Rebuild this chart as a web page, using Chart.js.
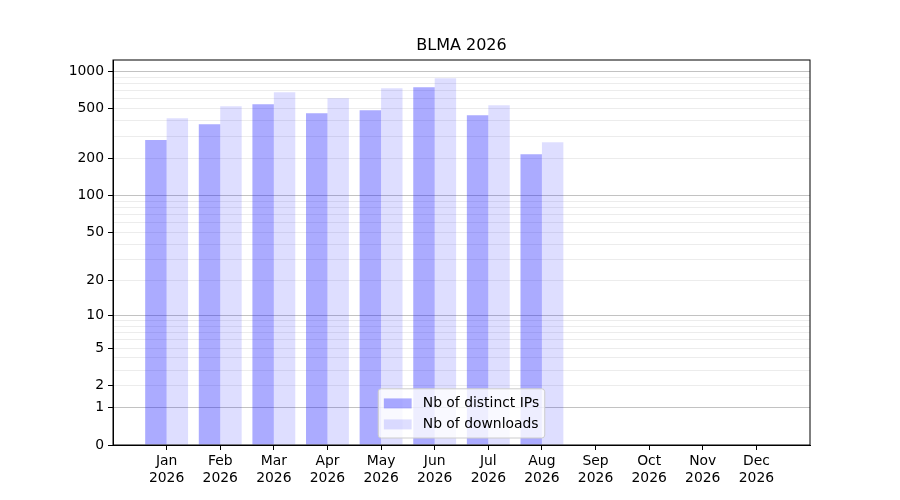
<!DOCTYPE html>
<html lang="en">
<head>
    <meta charset="UTF-8">
    <title>BLMA 2026</title>
    <script src="https://cdn.jsdelivr.net/npm/chart.js"></script>
    <style>
        html, body { margin: 0; padding: 0; background: #fff; }
        #wrap { width: 900px; height: 500px; }
    </style>
</head>
<body>
    <div id="wrap"><canvas id="chart"></canvas></div>
</body>

<script>

// months and values (Sep-Dec have no data yet)
const months   = ['Jan', 'Feb', 'Mar', 'Apr', 'May', 'Jun', 'Jul', 'Aug', 'Sep', 'Oct', 'Nov', 'Dec'];
const year     = '2026';
const ips      = [280, 376, 544, 460, 487, 745, 443, 215];
const download = [420, 524, 679, 608, 731, 879, 534, 269];

// y ticks: labelled values, and the unlabelled minor grid lines
const yLabels = [0, 1, 2, 5, 10, 20, 50, 100, 200, 500, 1000];
const yDark   = [1, 10, 100, 1000];
const yMinor  = [3, 4, 6, 7, 8, 9, 30, 40, 60, 70, 80, 90, 300, 400, 600, 700, 800, 900];

// scale where position = log10(v + 1)
const f = v => Math.log10(v + 1);

class Log1pScale extends Chart.Scale {
    static id = 'log1p';
    static defaults = {};

    determineDataLimits() {
        const { max } = this.getMinMax(true);
        this.min = 0;
        this.max = Math.pow(10, f(max) * 1.05) - 1;   // 5% margin like matplotlib
    }
    buildTicks() {
        return yLabels.concat(yMinor)
            .filter(v => v <= this.max)
            .sort((a, b) => a - b)
            .map(v => ({ value: v, lvl: yDark.includes(v) ? 2 : (yLabels.includes(v) ? 1 : 0) }));
    }
    configure() {
        super.configure();
        this._startValue = f(this.min);
        this._valueRange = f(this.max) - this._startValue;
    }
    getPixelForValue(v) {
        return this.getPixelForDecimal((f(v) - this._startValue) / this._valueRange);
    }
    getValueForPixel(p) {
        return Math.pow(10, this._startValue + this.getDecimalForPixel(p) * this._valueRange) - 1;
    }
    getLabelForValue(v) {
        return String(v);
    }
}
Chart.register(Log1pScale);

Chart.defaults.font.family = "'DejaVu Sans', sans-serif";
Chart.defaults.font.size = 13.9;
Chart.defaults.color = '#000';

// full box around the plot, like matplotlib spines
const framePlugin = {
    id: 'frame',
    afterDraw(chart) {
        const { ctx, chartArea: a } = chart;
        ctx.save();
        ctx.strokeStyle = '#000';
        ctx.lineWidth = 1;
        ctx.strokeRect(a.left, a.top, a.right - a.left, a.bottom - a.top);
        ctx.restore();
    }
};

// legend box at the lower centre inside the plot
const legendPlugin = {
    id: 'innerLegend',
    afterDraw(chart) {
        const { ctx, chartArea: a } = chart;
        const fs = 13.9;
        const sets = chart.data.datasets;
        ctx.save();
        ctx.font = fs + "px 'DejaVu Sans', sans-serif";
        const textW = Math.max(...sets.map(d => ctx.measureText(d.label).width));
        const pad = 5.6, handle = 27.8, gap = 11.1, rowH = 21;
        const w = pad * 2 + handle + gap + textW;
        const h = pad * 2 + rowH * sets.length - 4;
        const x = (a.left + a.right) / 2 - w / 2;
        const y = a.bottom - 7 - h;
        ctx.beginPath();
        ctx.roundRect(x, y, w, h, 3);
        ctx.fillStyle = 'rgba(255,255,255,0.8)';
        ctx.fill();
        ctx.strokeStyle = '#cccccc';
        ctx.lineWidth = 1;
        ctx.stroke();
        sets.forEach((d, i) => {
            const cy = y + pad + 9 + i * rowH;
            ctx.fillStyle = d.backgroundColor;
            ctx.fillRect(x + pad, cy - 5, handle, 10);
            ctx.fillStyle = '#000';
            ctx.textBaseline = 'middle';
            ctx.fillText(d.label, x + pad + handle + gap, cy);
        });
        ctx.restore();
    }
};

new Chart(document.getElementById('chart'), {
    type: 'bar',
    data: {
        datasets: [{
            label: 'Nb of distinct IPs',
            data: ips.map((v, i) => ({ x: i, y: v })),
            backgroundColor: 'rgba(0,0,255,0.33)',
        },
        {
            label: 'Nb of downloads',
            data: download.map((v, i) => ({ x: i, y: v })),
            backgroundColor: 'rgba(0,0,255,0.13)',
        }]
    },
    options: {
        responsive: true,
        maintainAspectRatio: false,
        animation: false,
        layout: { padding: { left: 0, right: 90, top: 0, bottom: 0 } },
        datasets: { bar: { categoryPercentage: 0.8, barPercentage: 1.0, borderWidth: 0 } },
        plugins: {
            legend: { display: false },
            tooltip: { enabled: false },
            title: {
                display: true,
                fullSize: false,
                text: 'BLMA 2026',
                font: { size: 16, weight: 'normal' },
                padding: { top: 36.4, bottom: 4.4 }
            }
        },
        scales: {
            x: {
                type: 'linear',
                min: -1,
                max: 12,
                offset: false,
                afterFit: s => { s.height = 55; },
                afterBuildTicks: s => { s.ticks = months.map((m, i) => ({ value: i })); },
                ticks: {
                    autoSkip: false,
                    maxRotation: 0,
                    padding: 3,
                    callback: v => [months[v], year]
                },
                grid: {
                    offset: false,
                    drawOnChartArea: false,
                    drawTicks: true,
                    tickLength: 5,
                    tickColor: '#000'
                },
                border: { color: '#000' }
            },
            y: {
                type: 'log1p',
                z: 1,
                afterFit: s => { s.width = 113; },
                ticks: {
                    autoSkip: false,
                    padding: 4,
                    callback: v => yLabels.includes(v) ? String(v) : ''
                },
                grid: {
                    tickLength: 5,
                    color: c => c.tick.value === 0 ? 'rgba(0,0,0,0)' :
                        (c.tick.lvl === 2 ? 'rgba(0,0,0,0.24)' : 'rgba(0,0,0,0.075)'),
                    tickColor: c => c.tick.lvl > 0 || c.tick.value === 0 ? '#000' : 'rgba(0,0,0,0)'
                },
                border: { color: '#000' }
            }
        }
    },
    plugins: [framePlugin, legendPlugin]
});

</script>
</html>
